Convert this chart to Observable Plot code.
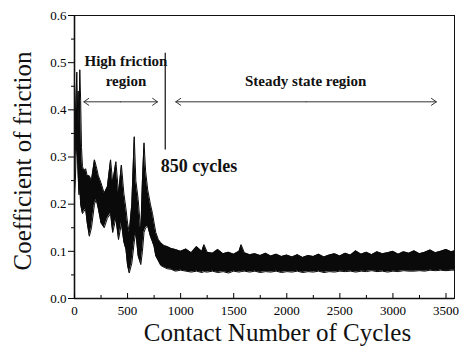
<!DOCTYPE html>
<html><head><meta charset="utf-8">
<script src="https://cdn.jsdelivr.net/npm/d3@7"></script>
<script src="https://cdn.jsdelivr.net/npm/@observablehq/plot@0.6"></script>
<style>
body{margin:0;background:#fff}
#chart svg, #chart svg text{font-family:"Liberation Serif","Times New Roman",serif !important}
</style>
</head><body><div id="chart"></div>
<script>
// Contact cycles at which the friction band edges were read
const cycles = [0,8,15,22,28,35,42,50,58,66,75,90,105,120,140,160,188,205,225,250,280,310,340,360,390,415,442,465,485,500,516,540,563,578,600,625,640,655,670,690,715,735,750,766,790,813,845,875,910,950,
  1000,1050,1100,1150,1200,1220,1250,1300,1350,1400,1450,1500,1550,1570,1600,1650,1700,1750,1800,1850,1900,1950,2000,2050,2100,2150,2200,2250,2300,2350,2400,2450,2500,2550,2600,2650,2700,2750,2800,2850,2900,2950,3000,3050,3100,3150,3200,3250,3300,3350,3400,3450,3500,3550,3580];
// Upper edge of the coefficient-of-friction band
const upper = [0.30,0.38,0.43,0.48,0.40,0.44,0.36,0.485,0.42,0.32,0.28,0.27,0.275,0.26,0.26,0.25,0.294,0.28,0.26,0.245,0.223,0.237,0.294,0.245,0.29,0.223,0.283,0.223,0.19,0.16,0.14,0.20,0.343,0.25,0.21,0.14,0.25,0.33,0.27,0.23,0.20,0.18,0.16,0.14,0.125,0.118,0.112,0.11,0.106,0.104,
  0.100,0.105,0.097,0.110,0.100,0.114,0.098,0.096,0.104,0.095,0.098,0.094,0.100,0.114,0.097,0.093,0.095,0.091,0.096,0.090,0.094,0.089,0.092,0.088,0.093,0.087,0.091,0.089,0.094,0.088,0.092,0.095,0.090,0.096,0.092,0.101,0.094,0.098,0.093,0.099,0.095,0.097,0.100,0.094,0.099,0.096,0.101,0.095,0.098,0.103,0.097,0.100,0.104,0.099,0.101];
// Lower edge of the band
const lower = [0.22,0.25,0.30,0.33,0.30,0.26,0.22,0.24,0.20,0.19,0.18,0.185,0.19,0.16,0.132,0.15,0.20,0.21,0.19,0.16,0.15,0.17,0.18,0.14,0.17,0.125,0.16,0.12,0.104,0.07,0.054,0.075,0.12,0.14,0.09,0.072,0.10,0.14,0.15,0.153,0.132,0.12,0.11,0.09,0.08,0.07,0.066,0.063,0.062,0.058,
  0.060,0.058,0.056,0.058,0.055,0.057,0.056,0.058,0.055,0.057,0.054,0.058,0.056,0.057,0.058,0.056,0.058,0.055,0.057,0.056,0.058,0.055,0.057,0.056,0.058,0.055,0.057,0.056,0.058,0.055,0.057,0.056,0.058,0.057,0.058,0.056,0.058,0.057,0.059,0.057,0.058,0.056,0.058,0.057,0.059,0.058,0.058,0.059,0.058,0.060,0.059,0.060,0.059,0.060,0.060];

const xTicks = [0,500,1000,1500,2000,2500,3000,3500];
const xMinor = [250,750,1250,1750,2250,2750,3250];
const yTicks = [0.0,0.1,0.2,0.3,0.4,0.5,0.6];
const yMinor = [0.05,0.15,0.25,0.35,0.45,0.55];

// Annotations
const transitionCycle = 855;
const transitionSpan = [0.315, 0.52];
const highArrow = [88, 782, 0.417];
const steadyArrow = [954, 3409, 0.417];
const regionLabels = [
  {text: "High friction", x: 485, y: 0.503},
  {text: "region", x: 485, y: 0.461},
  {text: "Steady state region", x: 2178, y: 0.461}
];
const cycleLabel = [{text: "850 cycles", x: 813, y: 0.28}];

const SERIF = "'Liberation Serif', 'Times New Roman', serif";
const band = cycles.map((c, i) => ({c, up: upper[i], lo: lower[i]}));
const arrows = [
  {x1: (highArrow[0]+highArrow[1])/2, x2: highArrow[0], y: highArrow[2]},
  {x1: (highArrow[0]+highArrow[1])/2, x2: highArrow[1], y: highArrow[2]},
  {x1: (steadyArrow[0]+steadyArrow[1])/2, x2: steadyArrow[0], y: steadyArrow[2]},
  {x1: (steadyArrow[0]+steadyArrow[1])/2, x2: steadyArrow[1], y: steadyArrow[2]}
];

const chart = Plot.plot({
  width: 467, height: 355,
  marginLeft: 74, marginRight: 13, marginTop: 15, marginBottom: 57,
  style: {fontFamily: SERIF, color: "#000", background: "#fff"},
  x: {domain: [0, 3580]},
  y: {domain: [0, 0.6]},
  marks: [
    Plot.areaY(band, {x: "c", y1: "lo", y2: "up", fill: "#0a0a0a"}),
    Plot.line(band, {x: "c", y: "up", stroke: "#0a0a0a", strokeWidth: 1}),
    Plot.line(band, {x: "c", y: "lo", stroke: "#0a0a0a", strokeWidth: 1}),
    Plot.frame({stroke: "#111", strokeWidth: 1}),
    Plot.ruleX([0], {stroke: "#111", strokeWidth: 1.6}),
    Plot.ruleY([0], {stroke: "#111", strokeWidth: 1.6}),
    Plot.axisY(yTicks, {tickSize: 6, tickPadding: 2, fontSize: 13, fill: "#000", stroke: "#000", tickFormat: d3.format(".1f"), label: null}),
    Plot.axisY(yMinor, {tickSize: 3, tickFormat: () => "", label: null}),
    Plot.axisX(xTicks, {tickSize: -5, tickPadding: 12, fontSize: 13, fill: "#000", stroke: "#000", tickFormat: d => String(d), label: null}),
    Plot.axisX(xMinor, {tickSize: -3, tickFormat: () => "", label: null}),
    Plot.ruleX([transitionCycle], {y1: transitionSpan[0], y2: transitionSpan[1], stroke: "#222", strokeWidth: 1.3}),
    Plot.arrow(arrows, {x1: "x1", x2: "x2", y1: "y", y2: "y", stroke: "#333", strokeWidth: 1, headLength: 9, headAngle: 70}),
    Plot.text(regionLabels, {x: "x", y: "y", text: "text", textAnchor: "middle", fontSize: 15, fontWeight: "bold", fill: "#111"}),
    Plot.text(cycleLabel, {x: "x", y: "y", text: "text", textAnchor: "start", fontSize: 18, fontWeight: "bold", fill: "#111"}),
    Plot.text(["Coefficient of friction"], {frameAnchor: "left", textAnchor: "middle", dx: -52, dy: 4, rotate: -90, fontSize: 25, fill: "#111"}),
    Plot.text(["Contact Number of Cycles"], {frameAnchor: "bottom", textAnchor: "middle", dx: 13, dy: 42, fontSize: 25, fill: "#111"})
  ]
});
d3.select(chart).selectAll("text").attr("font-family", SERIF).style("font-family", SERIF);
document.getElementById("chart").append(chart);
</script>
</body></html>
